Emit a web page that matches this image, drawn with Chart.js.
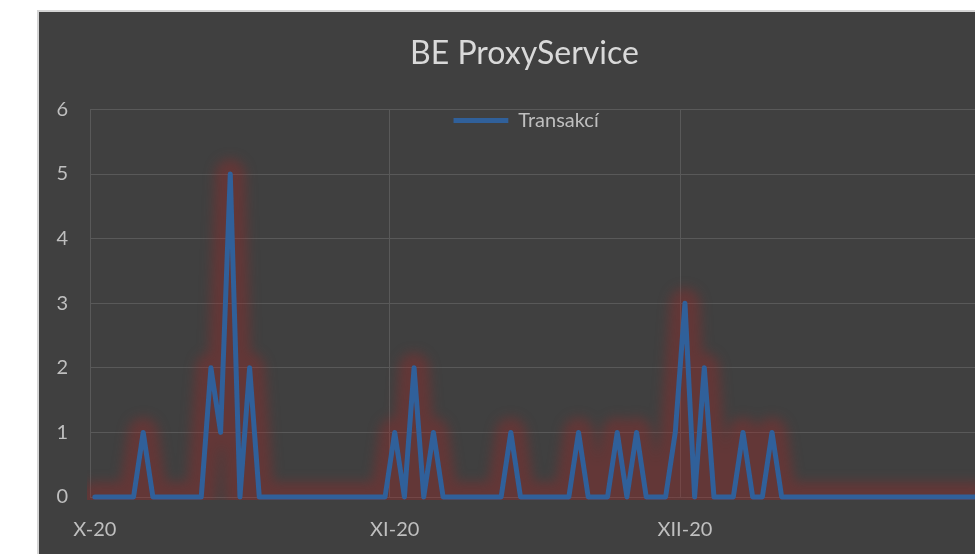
<!DOCTYPE html>
<html lang="cs">
<head>
  <meta charset="UTF-8">
  <title>BE ProxyService</title>
  <script src="https://cdn.jsdelivr.net/npm/chart.js"></script>
  <style>
    html, body {
      margin: 0;
      background: #fff;
      overflow: hidden;
    }
    .box {
      position: absolute;
      left: 37px;
      top: 10px;
      border-left: 2px solid #d4d4d4;
      border-top: 2px solid #d4d4d4;
      background: #404040;
    }
    canvas {
      display: block;
    }
  </style>
</head>
<body>
  <div class="box">
    <canvas id="proxyChart" width="971" height="542"></canvas>
  </div>

  <script>
    // měsíce na ose X a počet dní v každém z nich
    const mesice = ['X-20', 'XI-20', 'XII-20'];
    const dnyVMesici = [31, 30, 31];

    // počet transakcí po dnech
    const rijen = [0, 0, 0, 0, 0, 1, 0,  0, 0, 0, 0, 0, 2, 1,  5, 0, 2, 0, 0, 0, 0,
                   0, 0, 0, 0, 0, 0, 0,  0, 0, 0];
    const listopad = [1, 0, 2, 0, 1, 0, 0,  0, 0, 0, 0, 0, 1, 0,  0, 0, 0, 0, 0, 1, 0,
                      0, 0, 1, 0, 1, 0, 0,  0, 1];
    const prosinec = [3, 0, 2, 0, 0, 0, 1,  0, 0, 1, 0, 0, 0, 0,  0, 0, 0, 0, 0, 0, 0,
                      0, 0, 0, 0, 0, 0, 0,  0, 0, 0];

    const transakce = [...rijen, ...listopad, ...prosinec];

    // denní kategorie, popisek jen u prvního dne měsíce
    const labels = [];
    const popisky = [];
    mesice.forEach((m, mi) => {
      for (let d = 1; d <= dnyVMesici[mi]; d++) {
        labels.push(d + '. ' + m);
        popisky.push(d === 1 ? m : '');
      }
    });

    const gridColor = '#595959';
    const textColor = '#bfbfbf';

    Chart.defaults.font.family = 'Lato, "Open Sans", sans-serif';

    // rozmazání široké čáry = červená záře pod hlavní čarou
    const glow = {
      id: 'glow',
      beforeDatasetDraw(chart, args) {
        if (args.index !== 1) return;
        chart.ctx.save();
        chart.ctx.filter = 'blur(6px)';
      },
      afterDatasetDraw(chart, args) {
        if (args.index !== 1) return;
        chart.ctx.restore();
      }
    };

    // titulek přes celou šířku, legenda uvnitř grafu nahoře
    const rozlozeni = {
      id: 'rozlozeni',
      afterLayout(chart) {
        const t = chart.titleBlock;
        if (t) {
          t.left = 0;
          t.right = chart.width;
          t.width = chart.width;
        }
        const lg = chart.legend;
        const ca = chart.chartArea;
        if (lg) {
          lg.left = (ca.left + ca.right) / 2 - lg.width / 2 - 4;
          lg.right = lg.left + lg.width;
          lg.top = ca.top + 1;
          lg.bottom = lg.top + lg.height;
        }
      }
    };

    const ctx = document.getElementById('proxyChart').getContext('2d');
    new Chart(ctx, {
      type: 'line',
      data: {
        labels,
        datasets: [{
          label: 'Transakcí',
          data: transakce,
          borderColor: '#30609a',
          backgroundColor: '#30609a',
          borderWidth: 5,
          borderJoinStyle: 'round',
          borderCapStyle: 'round',
          pointRadius: 0,
          tension: 0,
          clip: 3
        }, {
          label: 'glow',
          data: transakce,
          borderColor: 'rgba(160, 40, 40, 0.36)',
          borderWidth: 30,
          borderJoinStyle: 'round',
          borderCapStyle: 'round',
          pointRadius: 0,
          tension: 0,
          clip: 3
        }]
      },
      options: {
        responsive: false,
        animation: false,
        layout: {
          padding: { left: 0, right: 30, top: 0, bottom: 0 }
        },
        scales: {
          x: {
            offset: true,
            grid: {
              offset: true,
              drawTicks: false,
              color: c => (c.index !== undefined && popisky[c.index] !== '' ? gridColor : 'transparent'),
              lineWidth: 1
            },
            border: { display: false },
            ticks: {
              autoSkip: false,
              maxRotation: 0,
              minRotation: 0,
              padding: 21,
              color: textColor,
              font: { size: 20 },
              callback: (v, i) => popisky[i]
            },
            afterFit: s => { s.height = 57; }
          },
          y: {
            min: 0,
            max: 6,
            grid: {
              drawTicks: false,
              color: gridColor,
              lineWidth: 1
            },
            border: { display: false },
            ticks: {
              stepSize: 1,
              padding: 22,
              color: textColor,
              font: { size: 20 }
            },
            afterFit: s => { s.width = 51; }
          }
        },
        plugins: {
          title: {
            display: true,
            text: 'BE ProxyService',
            color: '#d9d9d9',
            font: { size: 32, weight: 'normal' },
            padding: { top: 22, bottom: 37 }
          },
          legend: {
            position: 'chartArea',
            align: 'start',
            labels: {
              color: textColor,
              font: { size: 20 },
              usePointStyle: true,
              pointStyle: 'line',
              pointStyleWidth: 55,
              padding: 0,
              filter: item => item.datasetIndex === 0
            }
          },
          tooltip: { enabled: false }
        }
      },
      plugins: [glow, rozlozeni]
    });
  </script>
</body>
</html>
